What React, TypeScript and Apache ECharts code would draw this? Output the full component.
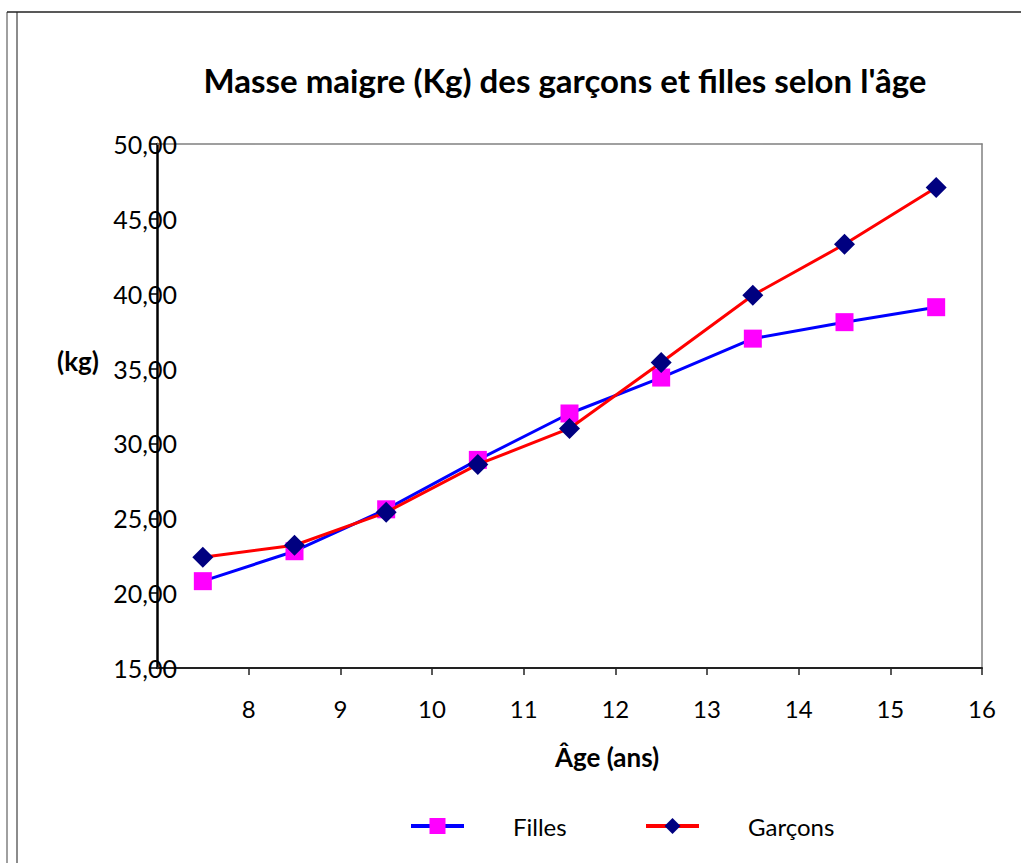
import React, { useEffect, useRef } from "react";
import * as echarts from "echarts";

const ages = [7.5, 8.5, 9.5, 10.5, 11.5, 12.5, 13.5, 14.5, 15.5];
const filles = [20.8, 22.8, 25.6, 28.9, 32.0, 34.4, 37.0, 38.1, 39.1];
const garcons = [22.4, 23.2, 25.4, 28.6, 31.0, 35.4, 39.9, 43.3, 47.1];
const xTicks = [8, 9, 10, 11, 12, 13, 14, 15, 16];
const titleText = "Masse maigre (Kg) des garçons et filles selon l'âge";
const xName = "Âge (ans)";
const yName = "(kg)";
const seriesNames = ["Filles", "Garçons"];

const FONT = "Lato, 'Liberation Sans', sans-serif";

export default function App() {
  const ref = useRef<HTMLDivElement>(null);
  useEffect(() => {
    document.body.style.margin = "0";
    const chart = echarts.init(ref.current!, null, { renderer: "svg" });
    const legendText = { fontFamily: FONT, fontSize: 24, color: "#000", padding: [0, 0, 0, 44] };
    const legendBase = {
      top: 809,
      itemWidth: 53,
      itemHeight: 20,
      textStyle: legendText,
      lineStyle: { width: 4 },
    };
    const borderAxis = {
      type: "value",
      splitLine: { show: false },
      axisTick: { show: false },
      axisLabel: { show: false },
      axisLine: { show: true, onZero: false, lineStyle: { color: "#808080", width: 1.5 } },
    };
    chart.setOption({
      animation: false,
      backgroundColor: "#fff",
      textStyle: { fontFamily: FONT },
      grid: {
        left: 157,
        top: 144,
        right: 39,
        bottom: 195,
        show: false,
      },
      xAxis: [
        {
          type: "value",
          min: 7,
          max: 16,
          interval: 1,
          position: "bottom",
          splitLine: { show: false },
          axisLine: { onZero: false, lineStyle: { color: "#222", width: 2 } },
          axisTick: { show: true, length: 7, lineStyle: { color: "#222", width: 1.5 }, customValues: xTicks },
          axisLabel: { customValues: xTicks, fontFamily: FONT, fontSize: 24, color: "#000", margin: 28 },
        },
        { ...borderAxis, min: 7, max: 16, position: "top" },
      ],
      yAxis: [
        {
          type: "value",
          min: 15,
          max: 50,
          interval: 5,
          position: "left",
          splitLine: { show: false },
          axisLine: { show: true, onZero: false, lineStyle: { color: "#000000", width: 2.5, opacity: 1 } },
          axisTick: { show: true, length: 8, lineStyle: { color: "#000", width: 1.5 } },
          axisLabel: {
            fontFamily: FONT,
            fontSize: 25,
            color: "#000",
            margin: -20,
            formatter: (v: number) => v.toFixed(2).replace(".", ","),
          },
        },
        { ...borderAxis, min: 15, max: 50, position: "right" },
      ],
      legend: [
        { ...legendBase, data: [seriesNames[0]], left: 404 },
        { ...legendBase, data: [seriesNames[1]], left: 639 },
      ],
      series: [
        {
          name: seriesNames[0],
          type: "line",
          data: ages.map((a, i) => [a, filles[i]]),
          symbol: "rect",
          symbolSize: 18,
          lineStyle: { color: "#0000FF", width: 3 },
          itemStyle: { color: "#FF00FF" },
          z: 2,
        },
        {
          name: seriesNames[1],
          type: "line",
          data: ages.map((a, i) => [a, garcons[i]]),
          symbol: "diamond",
          symbolSize: 21,
          lineStyle: { color: "#FF0000", width: 3 },
          itemStyle: { color: "#000080" },
          z: 3,
        },
      ],
      graphic: [
        { type: "line", shape: { x1: 7, y1: 12, x2: 7, y2: 863 }, style: { stroke: "#808080", lineWidth: 1.5 } },
        { type: "line", shape: { x1: 17, y1: 12, x2: 17, y2: 863 }, style: { stroke: "#666", lineWidth: 1.5 } },
        { type: "line", shape: { x1: 7, y1: 12, x2: 1021, y2: 12 }, style: { stroke: "#222", lineWidth: 1.5 } },
        {
          type: "text",
          x: 565,
          y: 80,
          style: {
            text: titleText,
            fontFamily: FONT,
            fontWeight: "bold",
            fontSize: 33,
            fill: "#000",
            textAlign: "center",
            textVerticalAlign: "middle",
          },
        },
        {
          type: "text",
          x: 78,
          y: 361,
          style: {
            text: yName,
            fontFamily: FONT,
            fontWeight: "bold",
            fontSize: 26,
            fill: "#000",
            textAlign: "center",
            textVerticalAlign: "middle",
          },
        },
        {
          type: "text",
          x: 607,
          y: 757,
          style: {
            text: xName,
            fontFamily: FONT,
            fontWeight: "bold",
            fontSize: 26,
            fill: "#000",
            textAlign: "center",
            textVerticalAlign: "middle",
          },
        },
      ],
    });
    return () => chart.dispose();
  }, []);
  return <div ref={ref} style={{ width: 1021, height: 863 }} />;
}
